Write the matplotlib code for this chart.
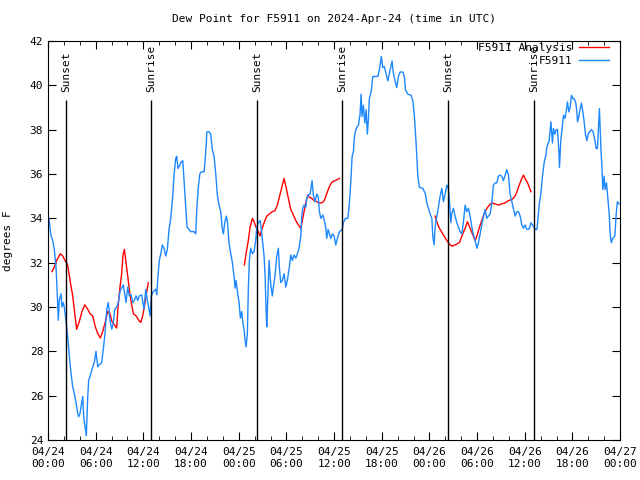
import numpy as np
import matplotlib
matplotlib.use("Agg")
import matplotlib.pyplot as plt

# hours since 04/24 00:00 UTC and dew point (F)
obs_hours = [0.0, 0.16, 0.38, 0.59, 0.79, 1.01, 1.13, 1.30, 1.42, 1.64, 1.76, 1.93, 2.05, 2.18, 2.35, 2.52,
             2.68, 2.90, 3.11, 3.31, 3.52, 3.74, 3.86, 4.03, 4.24, 4.37, 4.49, 4.66, 4.82, 5.00, 5.12, 5.32,
             5.54, 5.83, 6.04, 6.26, 6.46, 6.76, 6.96, 7.17, 7.39, 7.59, 7.80, 8.02, 8.22, 8.40, 8.65, 8.85,
             9.06, 9.31, 9.48, 9.69, 9.82, 10.03, 10.23, 10.45, 10.66, 10.86, 11.08, 11.29, 11.49, 11.79,
             12.08, 12.30, 12.50, 12.71, 12.84, 13.00, 13.25, 13.56, 13.68, 13.85, 14.01, 14.19, 14.39,
             14.60, 14.82, 15.02, 15.23, 15.45, 15.65, 15.86, 16.07, 16.20, 16.36, 16.58, 16.78, 16.96,
             17.12, 17.24, 17.41, 17.50, 17.75, 17.96, 18.38, 18.59, 18.72, 18.92, 19.10, 19.30, 19.64,
             19.76, 19.93, 19.98, 20.27, 20.48, 20.68, 20.90, 21.11, 21.31, 21.52, 21.74, 21.94, 22.07,
             22.24, 22.44, 22.57, 22.78, 23.00, 23.20, 23.41, 23.54, 23.66, 23.83, 24.04, 24.21, 24.38,
             24.51, 24.67, 24.80, 24.92, 25.09, 25.21, 25.34, 25.51, 25.72, 25.93, 26.14, 26.27, 26.47,
             26.69, 26.81, 26.98, 27.19, 27.32, 27.44, 27.53, 27.66, 27.82, 27.94, 28.07, 28.23, 28.36,
             28.57, 28.79, 28.99, 29.11, 29.29, 29.49, 29.71, 29.92, 30.12, 30.37, 30.55, 30.75, 30.96,
             31.18, 31.38, 31.59, 31.81, 31.93, 32.06, 32.22, 32.44, 32.56, 32.76, 32.98, 33.10, 33.23,
             33.39, 33.61, 33.82, 34.02, 34.15, 34.33, 34.58, 34.78, 34.96, 35.08, 35.25, 35.41, 35.59,
             35.79, 36.00, 36.21, 36.42, 36.67, 37.01, 37.17, 37.42, 37.73, 37.85, 38.01, 38.14, 38.27,
             38.43, 38.56, 38.77, 39.06, 39.27, 39.40, 39.52, 39.69, 39.86, 40.03, 40.19, 40.32, 40.44,
             40.66, 40.87, 41.50, 41.70, 41.83, 41.95, 42.13, 42.33, 42.55, 42.76, 42.96, 43.18, 43.30,
             43.46, 43.68, 43.89, 44.09, 44.31, 44.65, 44.85, 44.98, 45.28, 45.69, 45.91, 46.11, 46.32,
             46.54, 46.74, 47.17, 47.49, 47.67, 47.87, 48.08, 48.30, 48.42, 48.59, 48.71, 48.93, 49.13,
             49.34, 49.56, 49.76, 49.97, 50.19, 50.39, 50.51, 50.69, 50.81, 51.02, 51.23, 51.45, 51.65,
             51.86, 52.08, 52.28, 52.49, 52.70, 52.91, 53.12, 53.34, 53.54, 53.75, 53.97, 54.17, 54.38,
             54.59, 54.79, 55.01, 55.22, 55.42, 55.64, 55.85, 56.05, 56.27, 56.48, 56.68, 56.89, 57.11,
             57.31, 57.52, 57.74, 57.94, 58.15, 58.37, 58.57, 58.78, 59.00, 59.20, 59.41, 59.63, 59.83,
             60.04, 60.26, 60.46, 60.58, 60.77, 60.98, 61.19, 61.31, 61.53, 61.69, 61.81, 62.02, 62.22,
             62.43, 62.65, 62.77, 62.94, 63.06, 63.19, 63.28, 63.48, 63.60, 63.78, 63.94, 64.11, 64.28,
             64.36, 64.54, 64.70, 64.87, 65.04, 65.20, 65.37, 65.55, 65.71, 65.87, 66.05, 66.21, 66.42,
             66.55, 66.63, 66.80, 66.97, 67.13, 67.31, 67.47, 67.63, 67.81, 67.97, 68.14, 68.39, 68.60,
             68.81, 68.98, 69.14, 69.32, 69.39, 69.57, 69.70, 69.82, 69.99, 70.11, 70.28, 70.40, 70.62,
             70.74, 70.90, 71.08, 71.33, 71.50, 71.66, 71.87]
obs_dewpt = [34.1, 33.9, 33.2, 33.0, 32.6, 31.8, 30.9, 29.4, 30.3, 30.6, 30.0, 30.2, 30.0, 29.6, 29.1, 28.5,
             27.8, 27.0, 26.4, 26.1, 25.7, 25.2, 25.05, 25.2, 25.7, 25.95, 25.05, 24.6, 24.2, 25.95, 26.7, 26.9,
             27.2, 27.5, 28.0, 27.3, 27.4, 27.5, 28.1, 28.8, 29.9, 30.2, 29.4, 29.0, 29.3, 29.9, 30.0, 30.2,
             30.7, 30.9, 31.0, 30.5, 30.2, 30.9, 30.5, 30.55, 30.2, 30.3, 30.5, 30.3, 30.5, 30.55,
             29.9, 30.8, 30.3, 29.9, 29.6, 30.5, 30.7, 30.8, 30.55, 31.45, 32.1, 32.4, 32.8,
             32.65, 32.3, 32.6, 33.5, 34.0, 34.8, 35.95, 36.7, 36.8, 36.25, 36.4, 36.55, 36.6,
             35.7, 35.0, 34.1, 33.6, 33.5, 33.4, 33.4, 33.3, 34.4, 35.4, 36.0, 36.1, 36.1,
             36.6, 37.4, 37.9, 37.9, 37.8, 37.1, 36.8, 36.0, 35.05, 34.6, 34.3, 33.5, 33.3,
             33.8, 34.1, 33.85, 32.9, 32.4, 32.0, 31.4, 30.85, 31.2, 30.7, 30.2, 29.5, 29.8,
             29.3, 29.0, 28.5, 28.2, 28.8, 30.8, 32.1, 32.65, 32.4, 32.5, 33.0, 33.6, 33.8,
             33.9, 33.6, 33.0, 32.3, 31.4, 29.9, 29.1, 30.5, 32.1, 31.4, 30.9, 30.5, 30.9,
             31.4, 32.3, 32.65, 31.8, 31.1, 31.2, 31.5, 30.9, 31.2, 31.8, 32.35, 32.1, 32.35,
             32.2, 32.4, 32.65, 33.2, 34.1, 34.45, 34.6, 34.5, 34.9, 35.05, 35.1, 35.4, 35.7,
             35.05, 34.75, 35.1, 34.95, 34.3, 34.0, 34.15, 33.9, 33.55, 33.1, 33.5, 33.3, 33.1,
             33.3, 33.2, 32.8, 33.1, 33.4, 33.5, 33.8, 34.0, 34.0, 34.4, 35.1, 35.9, 36.8,
             37.0, 37.7, 38.05, 38.2, 38.7, 39.6, 38.6, 39.1, 38.3, 38.9, 37.8, 38.5, 39.4,
             39.7, 40.4, 40.4, 40.7, 41.0, 41.3, 40.8, 40.85, 40.5, 40.2, 40.55, 40.9, 41.1,
             40.55, 40.2, 39.9, 40.4, 40.6, 40.6, 40.4, 39.8, 39.6, 39.55, 39.3, 38.6, 37.4,
             35.9, 35.4, 35.35, 35.1, 34.7, 34.45, 34.2, 34.0, 33.2, 32.8, 33.6, 34.1, 34.5,
             35.0, 35.35, 34.75, 35.1, 35.5, 35.35, 34.8, 33.8, 34.2, 34.45, 34.1, 33.8, 33.6,
             33.4, 33.3, 33.85, 34.6, 34.3, 34.45, 34.1, 33.6, 33.25, 33.0, 32.65, 32.9, 33.3,
             33.7, 34.1, 34.4, 34.0, 34.1, 34.2, 34.7, 35.5, 35.6, 35.6, 35.9, 35.95, 35.9,
             35.7, 35.95, 36.2, 35.95, 35.1, 34.75, 34.45, 34.1, 34.3, 34.3, 34.1, 33.7, 33.55,
             33.7, 33.5, 33.5, 33.55, 33.8, 33.7, 33.6, 33.5, 33.5, 34.1, 34.6, 35.1, 35.9,
             36.5, 36.85, 37.2, 37.4, 37.5, 38.0, 38.35, 37.4, 38.05, 37.8, 38.0, 38.0, 37.1,
             36.3, 37.55, 38.1, 38.65, 38.5, 38.8, 39.25, 38.8, 39.0, 39.55, 39.4, 39.4, 39.2,
             38.8, 38.35, 38.6, 38.95, 39.2, 38.8, 38.35, 37.8, 37.5, 37.8, 37.9, 38.0, 37.9,
             37.55, 37.15, 37.15, 38.4, 38.95, 37.2, 36.35, 35.3, 35.9, 35.3, 35.6, 35.1, 34.2,
             33.3, 32.9, 33.1, 33.2, 34.2, 34.75, 34.65]

# analysis series, three separate runs (nan = gap)
ana_hours = [0.5, 0.79, 1.09, 1.55, 1.85, 2.14, 2.48, 2.77, 3.11, 3.60, 3.94, 4.28, 4.62, 5.00, 5.29, 5.63,
             5.96, 6.26, 6.59, 6.89, 7.23, 7.51, 7.80, 8.05, 8.35, 8.64, 8.81, 9.06, 9.27, 9.44, 9.62, 9.82,
             10.03, 10.23, 10.48, 10.74, 11.08, 11.42, 11.67, 11.92, 12.12, 12.62,
             np.nan,
             24.71, 25.01, 25.21, 25.43, 25.72, 25.93, 26.18, 26.47, 26.69, 26.90, 27.19, 27.53, 27.86,
             28.23, 28.57, 28.86, 29.11, 29.42, 29.71, 29.96, 30.25, 30.55, 30.88, 31.18, 31.51, 31.81,
             32.01, 32.22, 32.44, 32.69, 32.89, 33.19, 33.48, 33.82, 34.15, 34.45, 34.66, 34.87, 35.16,
             35.50, 35.79, 36.13, 36.42, 36.67,
             np.nan,
             48.71, 48.93, 49.13, 49.34, 49.76, 50.19, 50.61, 50.81, 51.23, 51.77, 52.08, 52.49, 52.78,
             53.12, 53.46, 53.75, 53.97, 54.29, 54.59, 54.88, 55.22, 55.55, 55.85, 56.27, 56.68, 57.11,
             57.52, 57.94, 58.37, 58.66, 58.91, 59.20, 59.51, 59.83, 60.10, 60.35, 60.62, 60.77]
ana_dewpt = [31.6, 31.8, 32.1, 32.4, 32.3, 32.1, 31.9, 31.2, 30.5, 29.0, 29.35, 29.8, 30.1, 29.9, 29.7, 29.6,
             29.1, 28.8, 28.6, 28.9, 29.35, 29.8, 29.7, 29.35, 29.2, 29.05, 30.0, 30.9, 31.5, 32.35, 32.6, 32.0,
             31.4, 30.8, 30.2, 29.7, 29.6, 29.4, 29.3, 29.6, 30.0, 31.1,
             np.nan,
             31.9, 32.6, 33.0, 33.6, 34.0, 33.85, 33.6, 33.4, 33.2, 33.5, 33.8, 34.1, 34.2,
             34.3, 34.35, 34.6, 34.95, 35.4, 35.8, 35.4, 34.9, 34.4, 34.15, 33.9, 33.7, 33.55,
             33.9, 34.3, 34.7, 35.05, 34.95, 34.9, 34.8, 34.75, 34.7, 34.7, 34.75, 34.9, 35.2,
             35.5, 35.65, 35.7, 35.75, 35.8,
             np.nan,
             34.1, 33.85, 33.65, 33.5, 33.25, 33.0, 32.8, 32.75, 32.8, 32.9, 33.2, 33.55, 33.85,
             33.55, 33.25, 33.0, 33.2, 33.6, 33.9, 34.2, 34.45, 34.6, 34.7, 34.65, 34.6, 34.65,
             34.7, 34.8, 34.85, 34.95, 35.1, 35.4, 35.7, 35.95, 35.75, 35.6, 35.35, 35.2]

sun_hours = [2.30, 13.00, 26.31, 37.05, 50.35, 61.20]
sun_names = ["Sunset", "Sunrise", "Sunset", "Sunrise", "Sunset", "Sunrise"]

xtick_hours = [0, 6, 12, 18, 24, 30, 36, 42, 48, 54, 60, 66, 72]
xtick_labels = ["04/24\n00:00", "04/24\n06:00", "04/24\n12:00", "04/24\n18:00",
                "04/25\n00:00", "04/25\n06:00", "04/25\n12:00", "04/25\n18:00",
                "04/26\n00:00", "04/26\n06:00", "04/26\n12:00", "04/26\n18:00",
                "04/27\n00:00"]

plt.rcParams['font.family'] = ['DejaVu Sans Mono']
plt.rcParams['font.size'] = 8

fig = plt.figure(figsize=(6.4, 4.8), dpi=100)
ax = fig.add_axes([0.075, 0.0833, 0.894, 0.8313])

ax.plot(ana_hours, ana_dewpt, color='#ff0000', lw=1.0, label='F5911 Analysis')
ax.plot(obs_hours, obs_dewpt, color='#1e88ff', lw=1.0, label='F5911')

ax.vlines(sun_hours, 24, 39.35, color='black', lw=1.0)
for h, name in zip(sun_hours, sun_names):
    ax.text(h, 39.7, name, rotation=90, ha='center', va='bottom', fontsize=8)

ax.set_xlim(0, 72)
ax.set_ylim(24, 42)
ax.set_xticks(xtick_hours)
ax.set_xticklabels(xtick_labels)
ax.set_xticks(np.arange(0, 73, 2), minor=True)
ax.set_yticks(np.arange(24, 43, 2))
ax.tick_params(which='both', direction='in', top=True, right=True)
ax.tick_params(which='major', length=6)
ax.tick_params(which='minor', length=3)
ax.tick_params(axis='x', pad=5)

ax.set_ylabel('degrees F', labelpad=12)
ax.set_title('Dew Point for F5911 on 2024-Apr-24 (time in UTC)', fontsize=8, pad=14)

leg = ax.legend(loc='upper right', frameon=False, markerfirst=False, handlelength=2.7,
                borderaxespad=0.0, borderpad=0.2, labelspacing=0.25, handletextpad=0.6,
                bbox_to_anchor=(0.985, 1.0))
for t in leg.get_texts():
    t.set_ha('right')

fig.savefig('out.png', dpi=100)
